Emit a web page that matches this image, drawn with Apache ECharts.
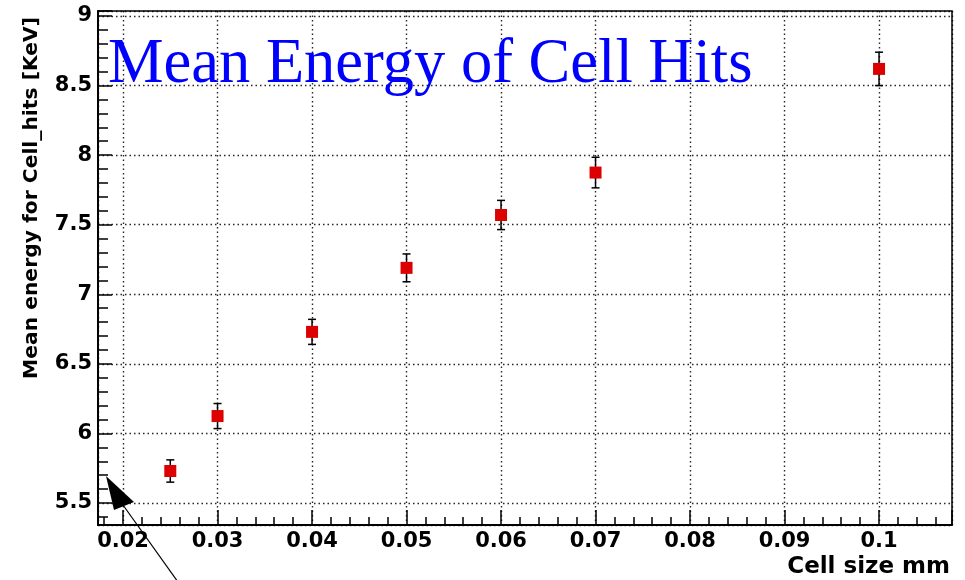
<!DOCTYPE html>
<html>
<head>
<meta charset="utf-8">
<script src="https://cdn.jsdelivr.net/npm/echarts@6/dist/echarts.min.js"></script>
<style>
  html, body { margin: 0; padding: 0; background: #fff; }
  #chart { width: 965px; height: 580px; }
</style>
</head>
<body>
<div id="chart"></div>
<script>
// Cell size (mm) and the mean deposited energy per cell hit (KeV) with its uncertainty
const cellSize   = [0.025, 0.03, 0.04, 0.05, 0.06, 0.07, 0.1];
const meanEnergy = [5.73, 6.125, 6.73, 7.19, 7.57, 7.875, 8.62];
const energyErr  = [0.08, 0.09, 0.09, 0.10, 0.105, 0.11, 0.12];

const titleText  = 'Mean Energy of Cell Hits';
const xTitleText = 'Cell size mm';
const yTitleText = 'Mean energy for Cell_hits [KeV]';

const points = cellSize.map((x, i) => [x, meanEnergy[i], energyErr[i]]);

const tickFont = { fontFamily: 'DejaVu Sans', fontWeight: 'bold', fontSize: 21, color: '#000' };

function fmtX(v) {
  const r = Math.round(v * 100) / 100;
  if (Math.abs(r - v) > 1e-9) return '';
  return String(r);
}
function fmtY(v) {
  const r = Math.round(v * 2) / 2;
  if (Math.abs(r - v) > 1e-9) return '';
  return String(r);
}

const gridLine = { show: true, lineStyle: { color: '#000', width: 1.4, type: [1.5, 3], opacity: 0.85 } };

const chart = echarts.init(document.getElementById('chart'), null, { renderer: 'canvas' });

chart.setOption({
  backgroundColor: '#ffffff',
  animation: false,
  title: {
    text: titleText,
    left: 108,
    top: 34,
    padding: 0,
    textStyle: {
      fontFamily: 'Liberation Serif',
      fontWeight: 'normal',
      fontSize: 62.5,
      color: '#0000ff'
    }
  },
  grid: {
    left: 98, top: 11, right: 13, bottom: 55,
    show: true,
    borderColor: '#000',
    borderWidth: 1.5,
    backgroundColor: 'transparent'
  },
  xAxis: {
    type: 'value',
    min: 0.01735,
    max: 0.10772,
    splitNumber: 9,
    axisLine: { show: true, onZero: false, lineStyle: { color: '#000', width: 2 } },
    axisTick: { show: true, inside: true, length: 15, lineStyle: { color: '#000', width: 1.5 } },
    minorTick: { show: true, splitNumber: 5, length: 8, lineStyle: { color: '#000', width: 1.5 } },
    axisLabel: Object.assign({ margin: 6, showMinLabel: false, showMaxLabel: false, formatter: fmtX }, tickFont),
    splitLine: gridLine
  },
  yAxis: {
    type: 'value',
    min: 5.342,
    max: 9.036,
    splitNumber: 7,
    axisLine: { show: true, onZero: false, lineStyle: { color: '#000', width: 2 } },
    axisTick: { show: true, inside: true, length: 14, lineStyle: { color: '#000', width: 1.5 } },
    minorTick: { show: true, splitNumber: 5, length: 10, lineStyle: { color: '#000', width: 1.5 } },
    axisLabel: Object.assign({ margin: 6, showMinLabel: false, showMaxLabel: false, formatter: fmtY }, tickFont),
    splitLine: gridLine
  },
  series: [
    {
      // vertical error bars with end caps
      type: 'custom',
      z: 3,
      data: points,
      renderItem: function (params, api) {
        const x = api.value(0), y = api.value(1), e = api.value(2);
        const hi = api.coord([x, y + e]);
        const lo = api.coord([x, y - e]);
        const cap = 4;
        const st = { stroke: '#000', lineWidth: 1.5 };
        return {
          type: 'group',
          children: [
            { type: 'line', shape: { x1: hi[0], y1: hi[1], x2: lo[0], y2: lo[1] }, style: st },
            { type: 'line', shape: { x1: hi[0] - cap, y1: hi[1], x2: hi[0] + cap, y2: hi[1] }, style: st },
            { type: 'line', shape: { x1: lo[0] - cap, y1: lo[1], x2: lo[0] + cap, y2: lo[1] }, style: st }
          ]
        };
      }
    },
    {
      type: 'scatter',
      z: 4,
      symbol: 'rect',
      symbolSize: 12,
      itemStyle: { color: '#dd0000', opacity: 1 },
      data: points.map(p => [p[0], p[1]])
    }
  ],
  graphic: [
    {
      type: 'text',
      x: 950, y: 579,
      style: {
        text: xTitleText,
        fontFamily: 'DejaVu Sans', fontWeight: 'bold', fontSize: 23,
        fill: '#000', align: 'right', verticalAlign: 'bottom'
      }
    },
    {
      type: 'text',
      x: 32, y: 17,
      rotation: Math.PI / 2,
      style: {
        text: yTitleText,
        fontFamily: 'DejaVu Sans', fontWeight: 'bold', fontSize: 20.3,
        fill: '#000', align: 'right', verticalAlign: 'middle'
      }
    },
    {
      // pointer arrow at the lower-left corner
      type: 'group',
      children: [
        { type: 'line', shape: { x1: 123, y1: 505, x2: 178, y2: 582 }, style: { stroke: '#000', lineWidth: 1.2 } },
        { type: 'polygon', shape: { points: [[106, 476], [134, 502], [114, 510]] }, style: { fill: '#000' } }
      ]
    }
  ]
});
</script>
</body>
</html>
